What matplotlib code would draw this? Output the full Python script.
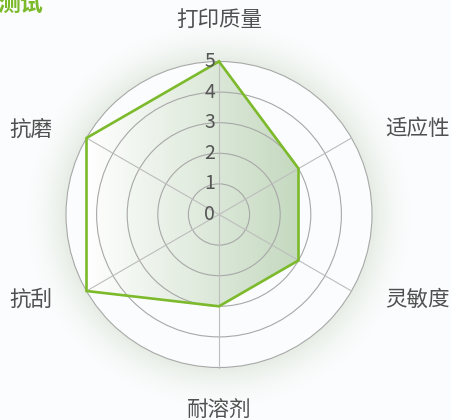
import numpy as np
import matplotlib.pyplot as plt
from matplotlib.patches import Circle, Polygon

plt.rcParams['font.family'] = ['Noto Sans CJK SC', 'DejaVu Sans']

# Data #
title = '测试'
indicators = ['打印质量', '适应性', '灵敏度', '耐溶剂', '抗刮', '抗磨']
values = [5, 3, 3, 3, 5, 5]
max_value = 5
ticks = [0, 1, 2, 3, 4, 5]

# Layout (pixels) #
W, H = 452, 420
cx, cy = 219, 214.5      # radar centre, from top-left
unit = 30.6              # pixels per value unit

line_color = '#7cba2b'
ring_color = '#a8a8a8'
spoke_color = '#bdbdbd'
text_color = '#505050'
bg_color = '#fbfcfd'

fig = plt.figure(figsize=(W / 100, H / 100), dpi=100, facecolor=bg_color)
ax = fig.add_axes([0, 0, 1, 1])
xlim = (-cx / unit, (W - cx) / unit)
ylim = (-(H - cy) / unit, cy / unit)
ax.set_xlim(*xlim)
ax.set_ylim(*ylim)
ax.axis('off')

# angles clockwise from the top
n = len(indicators)
theta = np.deg2rad(90 - 360.0 / n * np.arange(n))

# Outer glow #
gx = np.linspace(xlim[0], xlim[1], 500)
gy = np.linspace(ylim[0], ylim[1], 460)
GX, GY = np.meshgrid(gx, gy)
R = np.hypot(GX, GY)
glow = np.clip(1 - (R - max_value) / 1.4, 0, 1) ** 1.8 * 0.38
glow[R < max_value] = 0
img = np.zeros(GX.shape + (4,))
img[..., 0], img[..., 1], img[..., 2] = 0.76, 0.83, 0.73
img[..., 3] = glow
ax.imshow(img, extent=(*xlim, *ylim), origin='lower', zorder=0, interpolation='bilinear')
ax.add_patch(Circle((0, 0), max_value, fc=bg_color, ec='none', zorder=1))

# Polygon with horizontal gradient fill #
px = np.array(values) * np.cos(theta)
py = np.array(values) * np.sin(theta)
poly = Polygon(np.column_stack([px, py]), closed=True, fc='none', ec='none')
ax.add_patch(poly)
grad = np.zeros((2, 256, 4))
f = np.linspace(0, 1, 256)
start = np.array([1.0, 1.0, 1.0])
end = np.array([0.77, 0.85, 0.75])
grad[..., :3] = start + (end - start) * f[:, None]
grad[..., 3] = 1
gimg = ax.imshow(grad, extent=(px.min(), px.max(), py.min(), py.max()),
                 origin='lower', aspect='auto', zorder=2, interpolation='bilinear')
gimg.set_clip_path(poly)

# Rings and spokes #
for r in ticks[1:]:
    ax.add_patch(Circle((0, 0), r, fc='none', ec=ring_color, lw=0.8, zorder=3))
for t in theta:
    ax.plot([0, max_value * np.cos(t)], [0, max_value * np.sin(t)],
            color=spoke_color, lw=0.8, zorder=3)

# Series line #
ax.plot(np.append(px, px[0]), np.append(py, py[0]), color=line_color,
        lw=1.9, solid_joinstyle='miter', zorder=4)

# Tick labels #
for t in ticks:
    ax.text(-0.12, t, str(t), ha='right', va='center', fontsize=14,
            color='#555555', zorder=5)

# Indicator names #
name_r = 5.56
for name, t in zip(indicators, theta):
    c, s = np.cos(t), np.sin(t)
    if abs(c) < 1e-6:
        ha, off = 'center', (0, 24 if s > 0 else -25)
    elif c > 0:
        ha, off = 'left', (19, 0)
    else:
        ha, off = 'right', (-19, 0)
    ax.annotate(name, (name_r * c, name_r * s), xytext=off, textcoords='offset pixels',
                ha=ha, va='center', fontsize=15.5, color=text_color, zorder=5)

# Title (cut off at the left edge, as in the reference) #
fig.text(43 / W, 1 - 4 / H, title, ha='right', va='center', fontsize=16.5,
         fontweight='bold', color=line_color)

fig.savefig('out.png', dpi=100, facecolor=bg_color)
